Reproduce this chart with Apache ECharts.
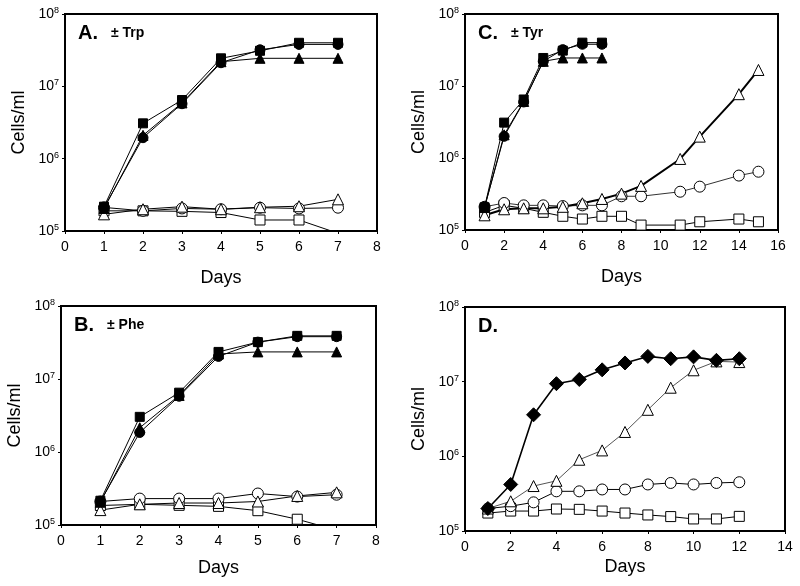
<!DOCTYPE html>
<html><head><meta charset="utf-8">
<script src="https://cdn.jsdelivr.net/npm/echarts@6/dist/echarts.min.js"></script>
<style>html,body{margin:0;padding:0;background:#fff}#c{width:800px;height:586px}</style>
</head><body><div id="c"></div>
<script>
// ---- Data ----
const daysShort = [1, 2, 3, 4, 5, 6, 7];
const daysC = [1, 2, 3, 4, 5, 6, 7, 8, 9, 11, 12, 14, 15];
const daysD = [1, 2, 3, 4, 5, 6, 7, 8, 9, 10, 11, 12];

// Panel A (± Trp)
const aFilledSquare = [2.17e5, 3.08e6, 6.47e6, 2.44e7, 3.1e7, 4.0e7, 4.0e7];
const aFilledCircle = [2.1e5, 1.95e6, 5.75e6, 2.12e7, 3.2e7, 3.8e7, 3.8e7];
const aFilledTriangle = [2.05e5, 2.1e6, 5.9e6, 2.19e7, 2.44e7, 2.44e7, 2.44e7];
const aOpenTriangle = [1.7e5, 2.0e5, 2.17e5, 2.0e5, 2.13e5, 2.2e5, 2.74e5];
const aOpenCircle = [2.12e5, 1.9e5, 2.05e5, 2.0e5, 2.1e5, 2.05e5, 2.1e5];
const aOpenSquare = [1.9e5, 1.9e5, 1.87e5, 1.8e5, 1.42e5, 1.42e5, 9.3e4];

// Panel B (± Phe)
const bFilledSquare = [2.15e5, 3.03e6, 6.5e6, 2.35e7, 3.2e7, 3.9e7, 3.9e7];
const bFilledCircle = [2.1e5, 1.85e6, 5.8e6, 2.04e7, 3.2e7, 3.8e7, 3.8e7];
const bFilledTriangle = [2.05e5, 2.15e6, 5.95e6, 2.2e7, 2.35e7, 2.35e7, 2.35e7];
const bOpenCircle = [2.1e5, 2.3e5, 2.3e5, 2.3e5, 2.7e5, 2.45e5, 2.6e5];
const bOpenTriangle = [1.6e5, 1.92e5, 2.0e5, 2.0e5, 2.1e5, 2.5e5, 2.8e5];
const bOpenSquare = [1.85e5, 1.92e5, 1.86e5, 1.8e5, 1.57e5, 1.2e5, 8.5e4];

// Panel C (± Tyr)
const cFilledSquare = [2.07e5, 3.1e6, 6.5e6, 2.45e7, 3.1e7, 4.0e7, 4.0e7];
const cFilledCircle = [2.1e5, 2.0e6, 6.0e6, 2.2e7, 3.2e7, 3.8e7, 3.8e7];
const cFilledTriangle = [2.05e5, 2.1e6, 6.1e6, 2.2e7, 2.45e7, 2.45e7, 2.45e7];
const cOpenTriangle = [1.6e5, 1.94e5, 2.0e5, 2.0e5, 2.1e5, 2.35e5, 2.7e5, 3.2e5, 4.1e5, 9.7e5, 1.98e6, 7.7e6, 1.67e7];
const cOpenCircle = [2.1e5, 2.37e5, 2.2e5, 2.2e5, 2.15e5, 2.2e5, 2.2e5, 2.94e5, 2.94e5, 3.4e5, 4.0e5, 5.7e5, 6.45e5];
const cOpenSquare = [1.75e5, 2.2e5, 2.0e5, 1.76e5, 1.55e5, 1.42e5, 1.55e5, 1.55e5, 1.17e5, 1.17e5, 1.3e5, 1.42e5, 1.3e5];

// Panel D
const dFilledDiamond = [2.0e5, 4.2e5, 3.6e6, 9.4e6, 1.07e7, 1.44e7, 1.78e7, 2.18e7, 2.03e7, 2.15e7, 1.93e7, 2.03e7];
const dOpenTriangle = [2.0e5, 2.5e5, 4.0e5, 4.7e5, 9.0e5, 1.2e6, 2.12e6, 4.2e6, 8.3e6, 1.42e7, 1.87e7, 1.83e7];
const dOpenCircle = [2.0e5, 2.15e5, 2.42e5, 3.4e5, 3.4e5, 3.6e5, 3.6e5, 4.2e5, 4.4e5, 4.2e5, 4.4e5, 4.5e5];
const dOpenSquare = [1.74e5, 1.85e5, 1.85e5, 1.97e5, 1.95e5, 1.85e5, 1.74e5, 1.64e5, 1.56e5, 1.45e5, 1.45e5, 1.57e5];

const yTickExps = [5, 6, 7, 8];
const xMaxA = 8, xMaxB = 8, xMaxC = 16, xMaxD = 14;
const xIntA = 1, xIntB = 1, xIntC = 2, xIntD = 2;
const panelLetters = ['A.', 'B.', 'C.', 'D.'];
const panelSubs = ['± Trp', '± Phe', '± Tyr', ''];

// ---- Chart ----
const FONT = '"Liberation Sans", Arial, sans-serif';
const grids = [
  {left: 65, top: 14, width: 312, height: 217},
  {left: 61, top: 306, width: 315, height: 219},
  {left: 465, top: 14, width: 313, height: 216},
  {left: 465, top: 307, width: 320, height: 224}
];
const xMaxes = [xMaxA, xMaxB, xMaxC, xMaxD];
const xInts = [xIntA, xIntB, xIntC, xIntD];
const daysNameGap = [38, 34, 38, 27];

function zip(xs, ys) { return xs.map((x, i) => [x, ys[i]]); }

const option = {
  animation: false,
  backgroundColor: '#fff',
  textStyle: {fontFamily: FONT},
  grid: grids.map(g => Object.assign({show: true, borderColor: '#000', borderWidth: 2, backgroundColor: 'transparent'}, g)),
  xAxis: grids.map((g, i) => ({
    gridIndex: i, type: 'value', min: 0, max: xMaxes[i], interval: xInts[i],
    name: 'Days', nameLocation: 'middle', nameGap: daysNameGap[i],
    nameTextStyle: {fontSize: 18, color: '#000', fontFamily: FONT},
    axisLine: {show: true, onZero: false, lineStyle: {color: '#000', width: 2}},
    axisTick: {show: true, length: 3, lineStyle: {color: '#000'}},
    axisLabel: {fontSize: 14, color: '#000', margin: 9, fontFamily: FONT},
    splitLine: {show: false}
  })),
  yAxis: grids.map((g, i) => ({
    gridIndex: i, type: 'log', logBase: 10, min: 1e5, max: 1e8,
    name: 'Cells/ml', nameLocation: 'middle', nameGap: 37, nameRotate: 90,
    nameTextStyle: {fontSize: 18, color: '#000', fontFamily: FONT},
    axisLine: {show: true, lineStyle: {color: '#000', width: 2}},
    axisTick: {show: true, length: 3, lineStyle: {color: '#000'}},
    minorTick: {show: false},
    splitLine: {show: false},
    axisLabel: {
      margin: 6, color: '#000',
      formatter: v => '{b|10}{s|' + Math.round(Math.log10(v)) + '}',
      rich: {
        b: {fontSize: 14, fontFamily: FONT, color: '#000', lineHeight: 16},
        s: {fontSize: 9, fontFamily: FONT, color: '#000', verticalAlign: 'top', lineHeight: 16, padding: [0, 0, 6, 0]}
      }
    }
  })),
  graphic: grids.map((g, i) => ({
    type: 'text', left: g.left + 13, top: g.top + 9,
    style: {
      text: '{l|' + panelLetters[i] + '}' + (panelSubs[i] ? '{g|}{s|' + panelSubs[i] + '}' : ''),
      rich: {
        l: {fontSize: 20, fontWeight: 'bold', fontFamily: FONT, fill: '#000'},
        g: {width: 13},
        s: {fontSize: 14, fontWeight: 'bold', fontFamily: FONT, fill: '#000'}
      }
    }
  })),
  series: []
};

function filled(idx, sym, xs, ys, size, lw) {
  return {type: 'line', xAxisIndex: idx, yAxisIndex: idx, data: zip(xs, ys), symbol: sym, symbolSize: size,
    clip: true, itemStyle: {color: '#000', borderColor: '#000'}, lineStyle: {color: '#000', width: lw || 1}, z: 3};
}
function open(idx, sym, xs, ys, size, lw, lc) {
  return {type: 'line', xAxisIndex: idx, yAxisIndex: idx, data: zip(xs, ys), symbol: sym, symbolSize: size,
    clip: true, itemStyle: {color: '#fff', borderColor: '#000', borderWidth: 1}, lineStyle: {color: lc || '#000', width: lw || 1}, z: 2};
}

option.series.push(
  open(0, 'rect', daysShort, aOpenSquare, 10),
  open(0, 'circle', daysShort, aOpenCircle, 11),
  open(0, 'triangle', daysShort, aOpenTriangle, 11),
  filled(0, 'triangle', daysShort, aFilledTriangle, 10),
  filled(0, 'circle', daysShort, aFilledCircle, 10),
  filled(0, 'rect', daysShort, aFilledSquare, 9),

  open(1, 'rect', daysShort, bOpenSquare, 10),
  open(1, 'circle', daysShort, bOpenCircle, 11),
  open(1, 'triangle', daysShort, bOpenTriangle, 11),
  filled(1, 'triangle', daysShort, bFilledTriangle, 10),
  filled(1, 'circle', daysShort, bFilledCircle, 10),
  filled(1, 'rect', daysShort, bFilledSquare, 9),

  open(2, 'rect', daysC, cOpenSquare, 10),
  open(2, 'circle', daysC, cOpenCircle, 11, 1, '#333'),
  open(2, 'triangle', daysC, cOpenTriangle, 11, 2),
  filled(2, 'triangle', daysShort, cFilledTriangle, 10),
  filled(2, 'circle', daysShort, cFilledCircle, 10),
  filled(2, 'rect', daysShort, cFilledSquare, 9),

  open(3, 'rect', daysD, dOpenSquare, 10),
  open(3, 'circle', daysD, dOpenCircle, 11),
  open(3, 'triangle', daysD, dOpenTriangle, 11, 1, '#555'),
  filled(3, 'diamond', daysD, dFilledDiamond, 14, 1.6)
);

const chart = echarts.init(document.getElementById('c'), null, {renderer: 'canvas'});
chart.setOption(option);
</script>
</body></html>
